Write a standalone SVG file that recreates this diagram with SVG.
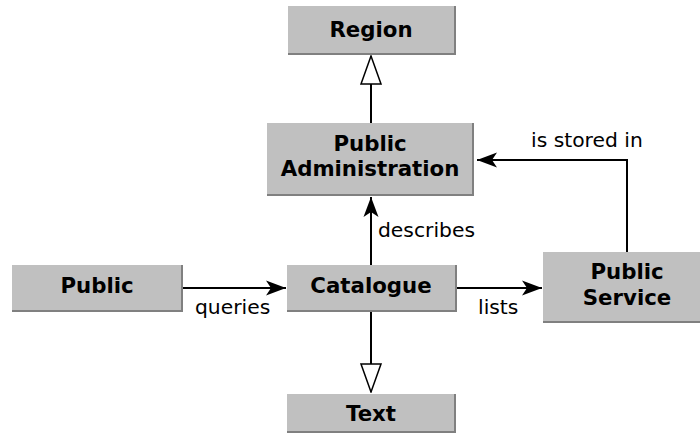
<svg xmlns="http://www.w3.org/2000/svg" width="700" height="435" viewBox="0 0 700 435">
<style>
.box{fill:#c0c0c0;}
.sh{fill:none;stroke:#808080;stroke-width:2;}
.t{font-family:"DejaVu Sans",sans-serif;font-weight:bold;font-size:21.3px;fill:#000;text-anchor:middle;}
.l{font-family:"DejaVu Sans",sans-serif;font-size:20.3px;fill:#000;}
.c{fill:none;stroke:#000;stroke-width:2;}
</style>
<defs>
<marker id="fa" viewBox="-20 -8 21 16" refX="0" refY="0" markerWidth="21" markerHeight="16" markerUnits="userSpaceOnUse" orient="auto">
<path d="M0,0 L-20,-7.5 L-15,0 L-20,7.5 Z" fill="#000"/>
</marker>
<marker id="ha" viewBox="-30 -12 31 24" refX="0" refY="0" markerWidth="31" markerHeight="24" markerUnits="userSpaceOnUse" orient="auto">
<path d="M0,0 L-28,-10 L-28,10 Z" fill="#fff" stroke="#000" stroke-width="1.5"/>
</marker>
</defs>
<g id="connectors">
<line class="c" x1="371" y1="123" x2="371" y2="56" marker-end="url(#ha)"/>
<line class="c" x1="371" y1="265" x2="371" y2="197" marker-end="url(#fa)"/>
<line class="c" x1="371" y1="311" x2="371" y2="392" marker-end="url(#ha)"/>
<line class="c" x1="182" y1="288" x2="286" y2="288" marker-end="url(#fa)"/>
<line class="c" x1="456" y1="288" x2="542" y2="288" marker-end="url(#fa)"/>
<polyline class="c" points="627,252 627,160 477,160" marker-end="url(#fa)"/>
<text class="l" x="378" y="237">describes</text>
<text class="l" x="195" y="314">queries</text>
<text class="l" x="478" y="314">lists</text>
<text class="l" x="531" y="147">is stored in</text>
</g>
<g id="region">
<rect class="box" x="288" y="6" width="167" height="48"/>
<polyline class="sh" points="288,54 455,54 455,6"/>
<text class="t" x="371" y="37">Region</text>
</g>
<g id="public-administration">
<rect class="box" x="267" y="123" width="206" height="72"/>
<polyline class="sh" points="267,195 473,195 473,123"/>
<text class="t" x="370" y="151">Public</text>
<text class="t" x="370" y="176">Administration</text>
</g>
<g id="public">
<rect class="box" x="12" y="265" width="170" height="46"/>
<polyline class="sh" points="12,311 182,311 182,265"/>
<text class="t" x="97" y="293">Public</text>
</g>
<g id="catalogue">
<rect class="box" x="287" y="265" width="169" height="46"/>
<polyline class="sh" points="287,311 456,311 456,265"/>
<text class="t" x="371" y="293">Catalogue</text>
</g>
<g id="public-service">
<rect class="box" x="543" y="252" width="168" height="70"/>
<polyline class="sh" points="543,322 711,322 711,252"/>
<text class="t" x="627" y="279">Public</text>
<text class="t" x="627" y="305">Service</text>
</g>
<g id="text">
<rect class="box" x="287" y="394" width="168" height="38"/>
<polyline class="sh" points="287,432 455,432 455,394"/>
<text class="t" x="371" y="421">Text</text>
</g>
</svg>
